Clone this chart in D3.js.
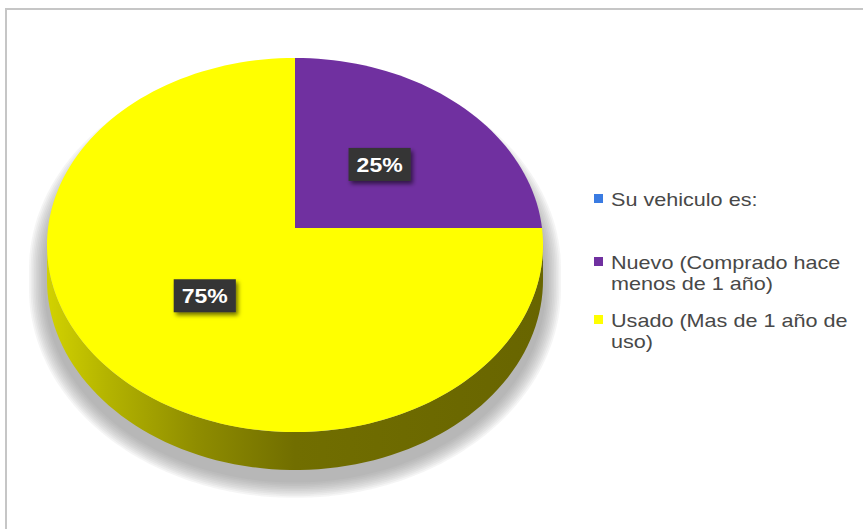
<!DOCTYPE html>
<html>
<head>
<meta charset="utf-8">
<script src="https://cdn.jsdelivr.net/npm/d3@7"></script>
<style>
  html, body { margin: 0; padding: 0; background: #ffffff; }
  svg { display: block; }
</style>
</head>
<body>
<script>
// ---- data ----
const sliceNames = ["Nuevo (Comprado hace menos de 1 año)", "Usado (Mas de 1 año de uso)"];
const sliceValues = [25, 75];
const seriesTitle = "Su vehiculo es:";
const legendEntries = [seriesTitle, ...sliceNames];

// ---- drawing ----
const W = 863, H = 529;
const svg = d3.select("body").append("svg").attr("width", W).attr("height", H);

const color = d3.scaleOrdinal()
  .domain(legendEntries)
  .range(["#3a7be2", "#7030a0", "#ffff00"]);

const defs = svg.append("defs");

const lblShadow = defs.append("filter").attr("id", "lblShadow")
  .attr("x", "-30%").attr("y", "-30%").attr("width", "160%").attr("height", "180%");
lblShadow.append("feDropShadow")
  .attr("dx", 2).attr("dy", 3).attr("stdDeviation", 2)
  .attr("flood-color", "#000").attr("flood-opacity", 0.55);

const wallGrad = defs.append("linearGradient").attr("id", "wallGrad")
  .attr("gradientUnits", "userSpaceOnUse")
  .attr("x1", 47).attr("x2", 543).attr("y1", 0).attr("y2", 0);
[[0, "#d2d200"], [0.12, "#b4b400"], [0.3, "#8f8d00"], [0.5, "#716e00"], [1, "#686500"]]
  .forEach(([o, c]) => wallGrad.append("stop").attr("offset", o).attr("stop-color", c));

// outer frame
svg.append("rect")
  .attr("x", 6).attr("y", 9).attr("width", W + 20).attr("height", H + 20)
  .attr("fill", "none").attr("stroke", "#c6c6c6").attr("stroke-width", 2);

// perspective projection of the tilted pie disc
const cx = 295, cy = 228;       // projected centre of the disc
const A = 185.5, B = 247;       // vertical / horizontal radii
const persp = 0.0909;           // perspective strength
const depth = 34.5;             // thickness of the pie

function proj(theta, r, h) {
  const u = r * Math.sin(theta), v = -r * Math.cos(theta);
  const w = 1 / (1 - persp * v);
  return [cx + B * u * w, cy + A * v * w + h * w];
}
const N = 180;
function arcPts(a0, a1, r, h) {
  const n = Math.max(2, Math.ceil(N * Math.abs(a1 - a0) / (2 * Math.PI)));
  return d3.range(n + 1).map(i => proj(a0 + (a1 - a0) * i / n, r, h));
}
const line = d3.line();

// silhouette tangents: where the rim reaches its leftmost / rightmost point
const samples = d3.range(0, 2 * Math.PI, Math.PI / 720);
const thetaR = samples[d3.maxIndex(samples, t => proj(t, 1, 0)[0])];
const thetaL = samples[d3.minIndex(samples, t => proj(t, 1, 0)[0])];

const pie = d3.pie().sort(null).value(d => d)(sliceValues);
const total = d3.sum(sliceValues);

// soft shadow below the pie: stacked translucent outlines of a dropped silhouette
const silhouette = line(
  arcPts(thetaL - 2 * Math.PI, thetaR, 1, 24)           // back rim, left -> right
    .concat(arcPts(thetaR, thetaL, 1, depth + 9))        // front bottom rim, right -> left
) + "Z";
const shadowG = svg.append("g");
const layers = 10;
d3.range(layers).forEach(k => {
  shadowG.append("path")
    .attr("d", silhouette)
    .attr("fill", "#888888")
    .attr("stroke", "#888888")
    .attr("stroke-linejoin", "round")
    .attr("stroke-width", 2 + (layers - k) * 3.4)
    .attr("opacity", 0.08);
});

// outer walls (front-facing part only)
pie.forEach((d, i) => {
  const a0 = Math.max(d.startAngle, thetaR), a1 = Math.min(d.endAngle, thetaL);
  if (a1 <= a0) return;
  const pts = arcPts(a0, a1, 1, 0).concat(arcPts(a1, a0, 1, depth));
  svg.append("path")
    .attr("d", line(pts) + "Z")
    .attr("fill", i === 1 ? "url(#wallGrad)" : d3.color(color(sliceNames[i])).darker(1.2));
});

// top faces
pie.forEach((d, i) => {
  const pts = [proj(0, 0, 0)].concat(arcPts(d.startAngle, d.endAngle, 1, 0));
  svg.append("path")
    .attr("d", line(pts) + "Z")
    .attr("fill", color(sliceNames[i]));
});

// value labels
const fmt = d3.format(".0%");
pie.forEach((d) => {
  const mid = (d.startAngle + d.endAngle) / 2;
  const [x, y] = proj(mid, 0.5, 0);
  const g = svg.append("g").attr("transform", `translate(${x},${y}) scale(1.15,1)`);
  const box = g.append("rect").attr("fill", "#363636").attr("filter", "url(#lblShadow)");
  const t = g.append("text")
    .attr("text-anchor", "middle").attr("dy", "0.36em")
    .attr("font-family", "Liberation Sans, Arial, sans-serif")
    .attr("font-weight", "bold").attr("font-size", 20)
    .attr("fill", "#ffffff")
    .text(fmt(d.value / total));
  const tw = t.node().getComputedTextLength();
  box.attr("x", -(tw / 2 + 7)).attr("y", -16.5).attr("width", tw + 14).attr("height", 33);
});

// legend
const legendX = 594, textX = 611, lineH = 21, wrapW = 198, stretch = 1.2;
const legendY = [206, 269, 327];
const lg = svg.append("g");
legendEntries.forEach((name, i) => {
  const by = legendY[i];
  lg.append("rect")
    .attr("x", legendX).attr("y", by - 12).attr("width", 9).attr("height", 9)
    .attr("fill", color(name));
  const t = lg.append("text")
    .attr("transform", `translate(${textX},${by}) scale(${stretch},1)`)
    .attr("font-family", "Liberation Sans, Arial, sans-serif")
    .attr("font-size", 18).attr("fill", "#484848");
  // word wrap
  const words = name.split(" ");
  let cur = [], lineNo = 0;
  let ts = t.append("tspan").attr("x", 0).attr("y", 0);
  words.forEach(w => {
    cur.push(w);
    ts.text(cur.join(" "));
    if (ts.node().getComputedTextLength() > wrapW && cur.length > 1) {
      cur.pop();
      ts.text(cur.join(" "));
      cur = [w];
      lineNo++;
      ts = t.append("tspan").attr("x", 0).attr("y", lineNo * lineH).text(w);
    }
  });
});
</script>
</body>
</html>
